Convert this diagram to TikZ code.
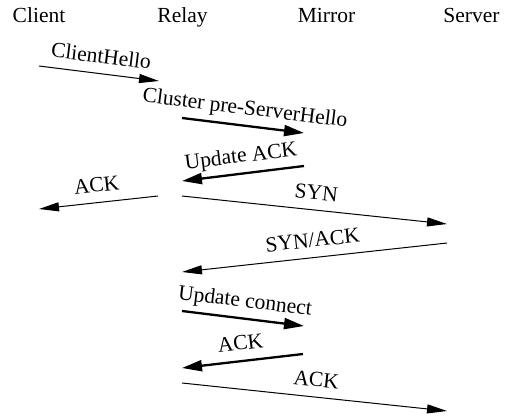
\documentclass[tikz,border=0pt]{standalone}
\usepackage{fontspec}
\setmainfont{Liberation Serif}
\usetikzlibrary{arrows.meta}
\begin{document}
\begin{tikzpicture}[x=1pt,y=-1pt,
  every node/.style={font=\fontsize{21.5}{25}\selectfont, inner sep=0pt},
  party/.style={anchor=base},
  msg/.style={line width=1pt, -{Triangle[length=20pt,width=9pt]}},
  ctl/.style={line width=2.3pt, -{Triangle[length=20pt,width=11pt]}},
  lab/.style={sloped, above=6pt, text depth=4pt}]
\useasboundingbox (0,0) rectangle (505,417);
% participants
\node[party] (client) at (39,23) {Client};
\node[party] (relay) at (182.5,23) {Relay};
\node[party] (mirror) at (326.5,23) {Mirror};
\node[party] (server) at (471.5,23) {Server};
% message end points
\coordinate (a1) at (39,66);   \coordinate (b1) at (159,81);
\coordinate (a2) at (182,118); \coordinate (b2) at (304,133);
\coordinate (a3) at (304,166); \coordinate (b3) at (182,181);
\coordinate (a4) at (158,196); \coordinate (b4) at (39,209);
\coordinate (a5) at (182,196); \coordinate (b5) at (447,224);
\coordinate (a6) at (447,243); \coordinate (b6) at (182,272);
\coordinate (a7) at (182,311); \coordinate (b7) at (304,326);
\coordinate (a8) at (303,354); \coordinate (b8) at (182,368);
\coordinate (a9) at (182,383); \coordinate (b9) at (447,411);
% messages
\draw[msg] (a1) -- node[lab] {ClientHello} (b1);
\draw[ctl] (a2) -- node[lab] {Cluster pre-ServerHello} (b2);
\draw[ctl] (a3) -- node[lab] {Update ACK} (b3);
\draw[msg] (a4) -- node[lab] {ACK} (b4);
\draw[msg] (a5) -- node[lab] {SYN} (b5);
\draw[msg] (a6) -- node[lab] {SYN/ACK} (b6);
\draw[ctl] (a7) -- node[lab] {Update connect} (b7);
\draw[ctl] (a8) -- node[lab] {ACK} (b8);
\draw[msg] (a9) -- node[lab] {ACK} (b9);
\end{tikzpicture}
\end{document}
